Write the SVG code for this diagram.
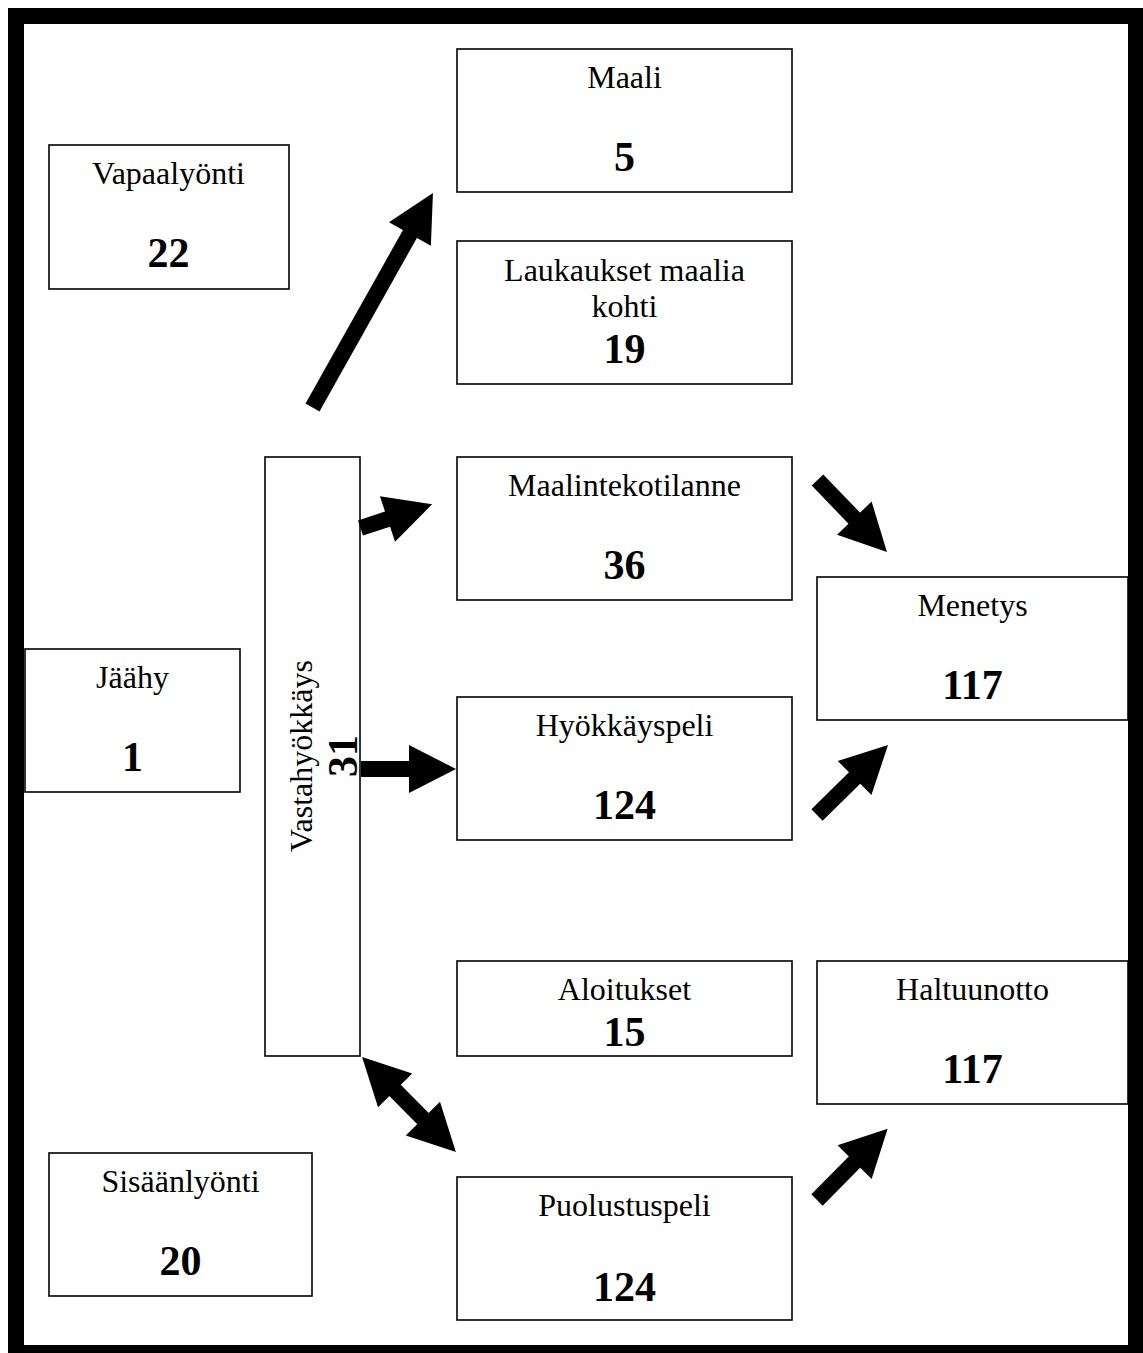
<svg xmlns="http://www.w3.org/2000/svg" width="1143" height="1353" viewBox="0 0 1143 1353">
  <style>
    .box { fill: #fff; stroke: #000; stroke-width: 1.6; }
    .lbl { font-family: "Liberation Serif", "Times New Roman", serif; font-size: 32px; text-anchor: middle; fill: #000; }
    .num { font-family: "Liberation Serif", "Times New Roman", serif; font-size: 42px; font-weight: bold; text-anchor: middle; fill: #000; }
    .shaft { stroke: #000; stroke-width: 16; fill: none; stroke-linecap: butt; }
    .frame { fill: none; stroke: #000; stroke-width: 16; }
  </style>
  <defs>
    <!-- block arrow head: base 48 wide, 47 long; line end sits 4px inside the base -->
    <marker id="head" markerUnits="userSpaceOnUse" viewBox="-5 -30 60 60" markerWidth="60" markerHeight="60" refX="4" refY="0" orient="auto-start-reverse" overflow="visible">
      <path d="M0,-24 L47,0 L0,24 Z" fill="#000"/>
    </marker>
  </defs>

  <rect width="1143" height="1353" fill="#fff"/>
  <!-- thick outer frame -->
  <rect class="frame" x="16" y="16" width="1120" height="1337"/>

  <g id="vapaalyonti">
    <rect class="box" x="49" y="145" width="240" height="144"/>
    <text class="lbl" x="168.5" y="184">Vapaalyönti</text>
    <text class="num" x="168.5" y="267">22</text>
  </g>

  <g id="maali">
    <rect class="box" x="457" y="49" width="335" height="143"/>
    <text class="lbl" x="624.5" y="88">Maali</text>
    <text class="num" x="624.5" y="171">5</text>
  </g>

  <g id="laukaukset">
    <rect class="box" x="457" y="241" width="335" height="143"/>
    <text class="lbl" x="624.5" y="281">Laukaukset maalia</text>
    <text class="lbl" x="624.5" y="317">kohti</text>
    <text class="num" x="624.5" y="363">19</text>
  </g>

  <g id="maalintekotilanne">
    <rect class="box" x="457" y="457" width="335" height="143"/>
    <text class="lbl" x="624.5" y="496">Maalintekotilanne</text>
    <text class="num" x="624.5" y="579">36</text>
  </g>

  <g id="menetys">
    <rect class="box" x="817" y="577" width="311" height="143"/>
    <text class="lbl" x="972.5" y="616">Menetys</text>
    <text class="num" x="972.5" y="699">117</text>
  </g>

  <g id="jaahy">
    <rect class="box" x="25" y="649" width="215" height="143"/>
    <text class="lbl" x="132.5" y="688">Jäähy</text>
    <text class="num" x="132.5" y="771">1</text>
  </g>

  <g id="vastahyokkays">
    <rect class="box" x="265" y="457" width="95" height="599"/>
    <text class="lbl" transform="translate(312,756) rotate(-90)">Vastahyökkäys</text>
    <text class="num" transform="translate(357,756) rotate(-90)">31</text>
  </g>

  <g id="hyokkayspeli">
    <rect class="box" x="457" y="697" width="335" height="143"/>
    <text class="lbl" x="624.5" y="736">Hyökkäyspeli</text>
    <text class="num" x="624.5" y="819">124</text>
  </g>

  <g id="aloitukset">
    <rect class="box" x="457" y="961" width="335" height="95"/>
    <text class="lbl" x="624.5" y="1000">Aloitukset</text>
    <text class="num" x="624.5" y="1046">15</text>
  </g>

  <g id="haltuunotto">
    <rect class="box" x="817" y="961" width="311" height="143"/>
    <text class="lbl" x="972.5" y="1000">Haltuunotto</text>
    <text class="num" x="972.5" y="1083">117</text>
  </g>

  <g id="sisaanlyonti">
    <rect class="box" x="49" y="1153" width="263" height="143"/>
    <text class="lbl" x="180.5" y="1192">Sisäänlyönti</text>
    <text class="num" x="180.5" y="1275">20</text>
  </g>

  <g id="puolustuspeli">
    <rect class="box" x="457" y="1177" width="335" height="143"/>
    <text class="lbl" x="624.5" y="1216">Puolustuspeli</text>
    <text class="num" x="624.5" y="1301">124</text>
  </g>

  <g id="connectors">
    <line class="shaft" x1="312.5" y1="407.5" x2="411.9" y2="230.5" marker-end="url(#head)"/>
    <line class="shaft" x1="360.5" y1="528" x2="391.3" y2="517.8" marker-end="url(#head)"/>
    <line class="shaft" x1="361" y1="769" x2="413" y2="769" marker-end="url(#head)"/>
    <line class="shaft" x1="817.5" y1="480" x2="857.1" y2="521.1" marker-end="url(#head)"/>
    <line class="shaft" x1="817" y1="815" x2="857.4" y2="775.2" marker-end="url(#head)"/>
    <line class="shaft" x1="392.3" y1="1087.6" x2="425.7" y2="1121.4" marker-start="url(#head)" marker-end="url(#head)"/>
    <line class="shaft" x1="817" y1="1200" x2="857.4" y2="1159.2" marker-end="url(#head)"/>
  </g>
</svg>
